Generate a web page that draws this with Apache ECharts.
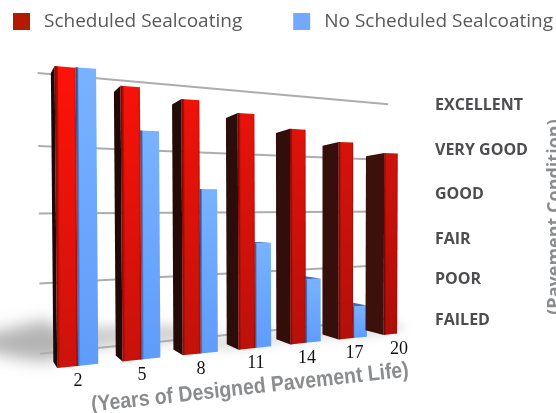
<!DOCTYPE html>
<html>
<head>
<meta charset="utf-8">
<style>html,body{margin:0;padding:0;background:#fff}#chart{width:556px;height:413px;overflow:hidden}</style>
<script src="https://cdn.jsdelivr.net/npm/echarts@6/dist/echarts.min.js"></script>
</head>
<body>
<div id="chart"></div>
<script>
var years = ['2', '5', '8', '11', '14', '17', '20'];
var scheduled = [96.8, 92, 89, 85.3, 80.6, 76.5, 72.9];
var noScheduled = [97, 77.4, 57.8, 38.2, 24, 12.3, null];
var gridLevels = [0, 25, 50, 74, 100];
var conditions = ['EXCELLENT', 'VERY GOOD', 'GOOD', 'FAIR', 'POOR', 'FAILED'];
var conditionY = [105, 150, 194, 239, 279, 320];

var GRID = { left: 60, top: 60, width: 350, height: 300 };
var BAR = 0.31;      // bar width, in category bands
var DEPTH = 0.044;   // how far the side faces run to the vanishing point
var WALL = 0.105;    // back wall depth
var VP = [-30, 225];

// perspective of the front plane: T in bands, h 0..1 of the value axis
function project(T, h) {
    var d = 1 + 0.0411 * T;
    return [
        (78 + 69.5 * T) / d + (-2.5 + 0.55 * T) * h,
        (365.9 + 8.33 * T - 308 * h) / d
    ];
}
function back(p, k) {
    return [p[0] - (p[0] - VP[0]) * k, p[1] + (VP[1] - p[1]) * k];
}
// pixel from the axes -> band position and height fraction
function plane(api, i, v) {
    var c = api.coord([i, v]);
    return {
        T: (c[0] - GRID.left) / api.size([1, 0])[0] - 0.5,
        h: (GRID.top + GRID.height - c[1]) / GRID.height
    };
}
function poly(points, fill) {
    return { type: 'polygon', shape: { points: points }, style: { fill: fill } };
}
function grad(x2, y2, stops) {
    return new echarts.graphic.LinearGradient(0, 0, x2, y2, stops.map(function (c, i) {
        return { offset: i / (stops.length - 1), color: c };
    }));
}
function lerp(t, a, b) {
    return echarts.color.lerp(t / 6, [a, b]);
}
// only the blur of a shape parked off the page falls on the chart
function softShadow(points, blur, color) {
    return {
        type: 'polygon', z: 0, silent: true,
        shape: { points: points.map(function (p) { return [p[0] - 1000, p[1]]; }), smooth: 0.5 },
        style: { fill: '#000', shadowBlur: blur, shadowColor: color, shadowOffsetX: 1000 }
    };
}

function renderRed(params, api) {
    var i = api.value(0), p = plane(api, i, api.value(1));
    var a = p.T - BAR, b = p.T;
    var tl = project(a, p.h), tr = project(b, p.h), bl = project(a, 0), br = project(b, 0);
    var e = project(a + 0.05, p.h), f = project(a + 0.05, 0);
    var g = project(b - 0.03, p.h), j = project(b - 0.03, 0);
    var top = lerp(i, '#ff1208', '#cf130b'), bottom = lerp(i, '#cc130b', '#ad0f09');
    return {
        type: 'group',
        children: [
            poly([back(tl, DEPTH), tl, bl, back(bl, DEPTH)], lerp(i, '#1a0907', '#3c100b')),
            poly([tl, tr, br, bl], grad(0, 1, [top, bottom])),
            poly([tl, e, f, bl], grad(1, 0, ['rgba(70,0,0,0.75)', 'rgba(70,0,0,0)'])),
            poly([g, tr, br, j], grad(1, 0, ['rgba(110,0,0,0)', 'rgba(110,0,0,0.45)']))
        ]
    };
}
function renderBlue(params, api) {
    var v = api.value(1);
    if (isNaN(v)) return;
    var p = plane(api, api.value(0), v);
    var a = p.T, b = p.T + BAR;
    var tl = project(a, p.h), tr = project(b, p.h), bl = project(a, 0), br = project(b, 0);
    var e = project(a + 0.04, p.h), f = project(a + 0.04, 0);
    var children = [
        poly([tl, tr, br, bl], grad(0, 1, ['#79b2ff', '#5f9cfb'])),
        poly([tl, e, f, bl], grad(1, 0, ['rgba(20,40,90,0.85)', 'rgba(20,40,90,0)']))
    ];
    // the top shows only below eye level
    if (tl[1] > VP[1]) {
        children.push(poly([tl, tr, back(tr, DEPTH), back(tl, DEPTH)], '#3f6fc4'));
    }
    return { type: 'group', children: children };
}
function renderWall(params, api) {
    var p = plane(api, 0, api.value(0));
    var s = back(project(-0.44, p.h), WALL), t = back(project(6.94, p.h), WALL);
    return {
        type: 'line',
        shape: { x1: s[0], y1: s[1], x2: t[0], y2: t[1] },
        style: { stroke: '#adadad', lineWidth: 2 }
    };
}
function renderYear(params, api) {
    var i = api.value(0), p = plane(api, i, 0);
    var q = project(p.T, 0);
    return {
        type: 'text',
        style: {
            text: years[i], x: q[0] + i * 0.3, y: q[1] + 15.5,
            align: 'center', verticalAlign: 'middle',
            font: '18px "Liberation Serif"', fill: '#111'
        }
    };
}

var myChart = echarts.init(document.getElementById('chart'));
var option = {
    animation: false,
    grid: GRID,
    xAxis: { type: 'category', data: years, show: false },
    yAxis: { type: 'value', min: 0, max: 100, show: false },
    legend: {
        left: 13,
        top: 12,
        padding: 0,
        itemWidth: 17,
        itemHeight: 17,
        itemGap: 51,
        selectedMode: false,
        icon: 'rect',
        data: ['Scheduled Sealcoating', 'No Scheduled Sealcoating'],
        textStyle: { fontFamily: 'Open Sans', fontSize: 19, color: '#58595b', padding: [0, 0, 0, 9] }
    },
    series: [
        {
            type: 'custom', name: 'grid', silent: true, renderItem: renderWall,
            data: gridLevels.map(function (v) { return [v]; }), encode: { y: 0 }, z: 1
        },
        {
            type: 'custom', name: 'No Scheduled Sealcoating', renderItem: renderBlue,
            itemStyle: { color: '#73a8ff' },
            data: noScheduled.map(function (v, i) { return [i, v]; }), z: 2
        },
        {
            type: 'custom', name: 'Scheduled Sealcoating', renderItem: renderRed,
            itemStyle: { color: '#b31a00' },
            data: scheduled.map(function (v, i) { return [i, v]; }), z: 3
        },
        {
            type: 'custom', name: 'years', silent: true, renderItem: renderYear,
            data: years.map(function (y, i) { return [i]; }), z: 4
        }
    ],
    graphic: {
        elements: [
            softShadow([[-20, 342], [18, 327], [55, 325], [62, 354], [20, 358]], 16, 'rgba(130,130,130,0.6)'),
            softShadow([[60, 332], [120, 326], [190, 328], [190, 338], [120, 346], [60, 350]], 12, 'rgba(150,150,150,0.45)'),
            softShadow([[215, 335], [300, 330], [400, 322], [400, 332], [300, 342], [215, 350]], 8, 'rgba(170,170,170,0.3)'),
            {
                type: 'text', z: 5, x: 250, y: 388, rotation: 0.11, scaleX: 0.885, silent: true,
                style: {
                    text: '(Years of Designed Pavement Life)', align: 'center', verticalAlign: 'middle',
                    font: 'bold 22px "Liberation Sans"', fill: '#8a8c8e'
                }
            },
            {
                type: 'text', z: 5, x: 555, y: 217, rotation: Math.PI / 2, silent: true,
                style: {
                    text: '(Pavement Condition)', align: 'center', verticalAlign: 'middle',
                    font: 'bold 18px "Open Sans"', fill: '#8a8c8e'
                }
            }
        ].concat(conditions.map(function (c, i) {
            return {
                type: 'text', z: 5, x: 435, y: conditionY[i], silent: true,
                style: { text: c, verticalAlign: 'middle', font: 'bold 16px "Open Sans"', fill: '#4d4d4f' }
            };
        }))
    }
};
myChart.setOption(option);
</script>
</body>
</html>
